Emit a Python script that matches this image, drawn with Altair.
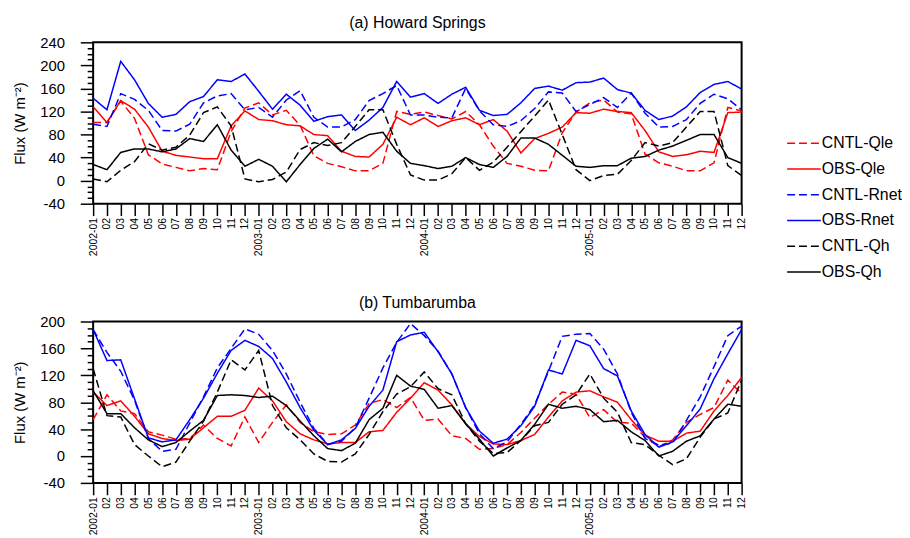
import altair as alt
import pandas as pd

MONTHS = [f"{y}-{m:02d}" for y in (2002, 2003, 2004, 2005) for m in range(1, 13)]
SERIES = ["CNTL-Qle", "OBS-Qle", "CNTL-Rnet", "OBS-Rnet", "CNTL-Qh", "OBS-Qh"]
COLORS = ["#ff0000", "#ff0000", "#0000ff", "#0000ff", "#000000", "#000000"]
DASHES = [[8, 4], [1, 0], [8, 4], [1, 0], [8, 4], [1, 0]]

# (a) Howard Springs
HS_CNTL_Qle = [101, 101, 138, 108, 45, 29, 23, 17, 21, 19, 85, 126,
               135, 114, 122, 96, 43, 30, 24, 17, 17, 30, 120, 115,
               119, 113, 107, 120, 97, 60, 30, 25, 18, 17, 83, 119,
               135, 140, 119, 116, 46, 31, 25, 17, 17, 31, 127, 121]
HS_OBS_Qle = [128, 101, 139, 124, 93, 51, 44, 41, 38, 38, 95, 121,
              106, 104, 97, 95, 80, 78, 51, 42, 41, 63, 110, 97,
              109, 94, 104, 109, 97, 106, 86, 48, 73, 82, 93, 118,
              117, 124, 120, 118, 87, 50, 42, 45, 51, 49, 118, 119]
HS_CNTL_Rnet = [98, 94, 151, 141, 122, 87, 86, 98, 135, 147, 151, 123,
                127, 110, 140, 156, 110, 93, 93, 106, 139, 151, 165, 114,
                114, 110, 109, 160, 121, 97, 94, 104, 125, 154, 152, 120,
                132, 144, 127, 152, 117, 93, 94, 106, 134, 150, 142, 123]
HS_OBS_Rnet = [143, 123, 207, 175, 134, 110, 115, 137, 146, 175, 172, 185,
               155, 124, 150, 131, 103, 111, 114, 87, 105, 127, 172, 145,
               151, 134, 150, 162, 122, 113, 115, 135, 160, 164, 157, 170,
               171, 178, 158, 152, 122, 106, 112, 128, 153, 167, 172, 159]
HS_CNTL_Qh = [3, -2, 18, 33, 64, 53, 58, 79, 118, 128, 95, 3,
              -2, 2, 15, 54, 66, 61, 66, 94, 123, 123, 63, 10,
              1, 1, 12, 40, 18, 32, 58, 85, 112, 140, 80, 19,
              0, 9, 11, 35, 66, 60, 66, 93, 120, 120, 26, 9]
HS_OBS_Qh = [28, 19, 49, 55, 55, 50, 55, 73, 68, 97, 53, 25,
             37, 25, -2, 28, 56, 72, 50, 68, 80, 84, 51, 30,
             26, 21, 25, 40, 28, 23, 42, 74, 74, 63, 44, 25,
             23, 26, 26, 39, 42, 53, 60, 70, 80, 80, 40, 30]

# (b) Tumbarumba
TU_CNTL_Qle = [54, 91, 67, 63, 36, 31, 25, 26, 46, 26, 15, 58,
               20, 50, 76, 50, 36, 32, 33, 46, 78, 84, 72, 87,
               53, 55, 30, 26, 10, 11, 17, 35, 56, 77, 95, 92,
               57, 69, 50, 49, 28, 14, 24, 50, 62, 72, 113, 93]
TU_OBS_Qle = [95, 75, 82, 59, 33, 26, 23, 25, 42, 59, 59, 68,
              101, 82, 51, 33, 24, 18, 20, 20, 36, 38, 65, 86,
              109, 98, 76, 48, 29, 18, 17, 23, 32, 58, 82, 95,
              97, 88, 80, 54, 31, 22, 22, 34, 37, 67, 90, 117]
TU_CNTL_Rnet = [188, 154, 126, 83, 26, 7, 10, 49, 88, 131, 160, 189,
                181, 157, 122, 80, 41, 17, 22, 42, 86, 131, 169, 197,
                179, 156, 122, 72, 33, 11, 21, 47, 76, 126, 178, 181,
                182, 159, 122, 65, 26, 16, 19, 53, 88, 133, 179, 193]
TU_OBS_Rnet = [188, 142, 143, 85, 27, 21, 24, 54, 86, 123, 157, 172,
               163, 145, 110, 72, 38, 17, 24, 41, 74, 98, 170, 180,
               184, 155, 122, 72, 37, 19, 25, 45, 74, 128, 122, 172,
               164, 130, 119, 67, 32, 13, 21, 45, 70, 115, 152, 188]
TU_CNTL_Qh = [130, 60, 58, 17, 0, -16, -9, 22, 52, 95, 143, 128,
              157, 75, 42, 24, 3, -8, -9, 3, 32, 66, 92, 103,
              125, 100, 91, 48, 22, 4, 5, 23, 45, 50, 77, 91,
              122, 86, 65, 20, 17, 1, -13, -4, 28, 55, 64, 113]
TU_OBS_Qh = [97, 63, 63, 42, 24, 14, 20, 37, 53, 90, 91, 90,
             87, 89, 75, 52, 30, 11, 8, 19, 54, 71, 120, 104,
             99, 71, 75, 48, 25, 0, 12, 23, 47, 77, 71, 74,
             69, 51, 53, 36, 23, 0, 7, 22, 30, 55, 77, 74]

HS = dict(zip(SERIES, [HS_CNTL_Qle, HS_OBS_Qle, HS_CNTL_Rnet, HS_OBS_Rnet, HS_CNTL_Qh, HS_OBS_Qh]))
TU = dict(zip(SERIES, [TU_CNTL_Qle, TU_OBS_Qle, TU_CNTL_Rnet, TU_OBS_Rnet, TU_CNTL_Qh, TU_OBS_Qh]))

FONT = "Liberation Sans"


def panel(data, title, ymin, ymax):
    rows = []
    for s in SERIES:
        for m, v in zip(MONTHS, data[s]):
            rows.append({"month": m, "series": s, "flux": v})
    df = pd.DataFrame(rows)
    return alt.Chart(df, title=alt.Title(title, fontSize=16, fontWeight="normal", font=FONT,
                                         anchor="middle", offset=4)).mark_line(
        strokeWidth=1.5
    ).encode(
        x=alt.X("month:O", title=None,
                scale=alt.Scale(type="point", padding=0),
                axis=alt.Axis(labelAngle=270, labelFontSize=10.5, labelFont=FONT,
                              tickSize=12, tickWidth=1.5, labelPadding=2,
                              labelExpr="slice(datum.value, 5) === '01' ? datum.value : slice(datum.value, 5)",
                              grid=False, domain=False)),
        y=alt.Y("flux:Q", title="Flux (W m⁻²)",
                scale=alt.Scale(domain=[ymin, ymax], nice=False, zero=False),
                axis=alt.Axis(values=list(range(ymin, ymax + 1, 10)),
                              labelExpr="datum.value % 40 === 0 ? '' + datum.value : ''",
                              tickSize=alt.condition("datum.value % 40 === 0", alt.value(13), alt.value(6)),
                              tickWidth=1.5, labelFontSize=15, labelFont=FONT, labelPadding=16,
                              titleFontSize=15, titleFont=FONT, titleFontWeight="normal",
                              titlePadding=12, grid=False, domain=False)),
        color=alt.Color("series:N", scale=alt.Scale(domain=SERIES, range=COLORS),
                        legend=alt.Legend(title=None)),
        strokeDash=alt.StrokeDash("series:N", scale=alt.Scale(domain=SERIES, range=DASHES),
                                  legend=alt.Legend(title=None)),
    ).properties(width=655, height=163)


p1 = panel(HS, "(a) Howard Springs", -40, 240)
p2 = panel(TU, "(b) Tumbarumba", -40, 200)

chart = alt.vconcat(p1, p2, spacing=37).properties(
    padding={"left": 3, "top": 4, "right": 0, "bottom": 0}
).configure_view(
    stroke="black", strokeWidth=2
).configure_axis(
    tickColor="black", labelColor="black", titleColor="black"
).configure_legend(
    orient="none", legendX=700, legendY=84,
    labelFontSize=16, labelFont=FONT, labelColor="black",
    symbolType="stroke", symbolSize=1156, symbolStrokeWidth=1.5,
    labelOffset=0, rowPadding=-7.4, symbolLimit=0
)

chart.save("out.html", embed_options={"renderer": "svg", "actions": False})
